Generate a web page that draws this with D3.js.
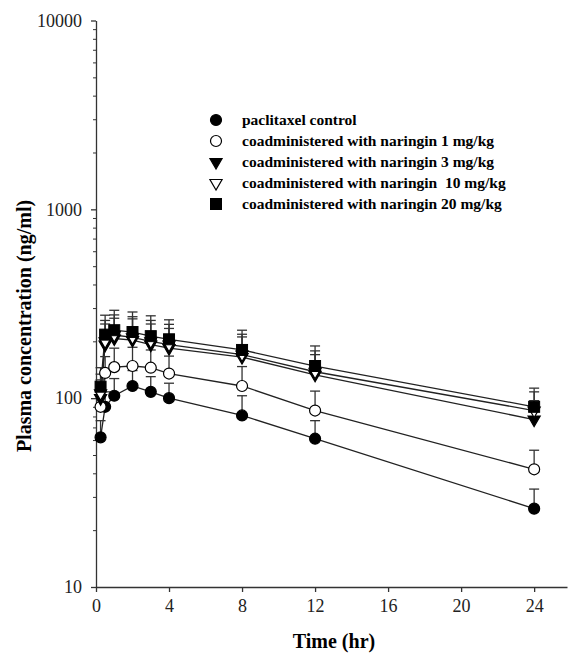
<!DOCTYPE html>
<html>
<head>
<meta charset="utf-8">
<script src="https://cdn.jsdelivr.net/npm/d3@7"></script>
<style>
  body { margin: 0; background: #fff; }
  svg { display: block; font-family: "Liberation Serif", "DejaVu Serif", serif; }
  .legend text { white-space: pre; }
</style>
</head>
<body>
<svg width="569" height="656"></svg>
<script>
// sampling times (hr)
const times = [0.25, 0.5, 1, 2, 3, 4, 8, 12, 24]

// mean plasma concentration (ng/ml) per group
const control = [62, 90, 103, 116, 108, 100, 81, 61, 26]
const nar1 = [90, 136, 146, 148, 145, 135, 116, 86, 42]
const nar3 = [100, 192, 207, 203, 192, 184, 165, 133, 77]
const nar10 = [106, 200, 216, 210, 200, 192, 170, 138, 86]
const nar20 = [115, 217, 229, 224, 213, 205, 180, 148, 90]

// upper error (SD) per group
const controlErr = [14, 18, 24, 24, 22, 20, 22, 15, 7]
const nar1Err = [20, 30, 38, 38, 35, 32, 31, 23, 11]
const nar3Err = [25, 55, 58, 60, 55, 50, 46, 37, 20]
const nar10Err = [28, 58, 60, 60, 58, 54, 48, 40, 22]
const nar20Err = [30, 58, 63, 62, 60, 55, 49, 41, 23]

const legendLabels = [
    "paclitaxel control",
    "coadministered with naringin 1 mg/kg",
    "coadministered with naringin 3 mg/kg",
    "coadministered with naringin  10 mg/kg",
    "coadministered with naringin 20 mg/kg"
]

const xTicks = [0, 4, 8, 12, 16, 20, 24]
const yTicks = [10, 100, 1000, 10000]

const groups = [
    { name: legendLabels[0], values: control, err: controlErr, shape: "circle", fill: "#000" },
    { name: legendLabels[1], values: nar1, err: nar1Err, shape: "circle", fill: "#fff" },
    { name: legendLabels[2], values: nar3, err: nar3Err, shape: "tri", fill: "#000" },
    { name: legendLabels[3], values: nar10, err: nar10Err, shape: "tri", fill: "#fff" },
    { name: legendLabels[4], values: nar20, err: nar20Err, shape: "square", fill: "#000" }
]

const svg = d3.select("svg")

const x = d3.scaleLinear()
    .domain([0, 25.8])
    .range([96, 567])

const y = d3.scaleLog()
    .domain([10, 10000])
    .range([587, 20.5])

// minor ticks on the log axis
const minorTicks = []
for (let dec = 10; dec < 10000; dec *= 10) {
    for (let m = 2; m <= 9; m++) minorTicks.push(dec * m)
}

svg.append("g")
    .attr("transform", "translate(96,0)")
    .call(d3.axisLeft(y).tickValues(minorTicks).tickSize(3).tickFormat(""))
    .call(g => g.select(".domain").remove())
    .selectAll("line").attr("stroke", "#333")

svg.append("g")
    .attr("class", "yaxis")
    .attr("transform", "translate(96,0)")
    .call(d3.axisLeft(y).tickValues(yTicks).tickSize(5).tickSizeOuter(0).tickFormat(d3.format("d")))
    .call(g => g.selectAll("text")
        .attr("font-family", "Liberation Serif")
        .attr("font-size", 18)
        .attr("fill", "#222")
        .attr("x", -14))
    .call(g => g.selectAll("line,path").attr("stroke", "#333").attr("stroke-width", 1.3))

svg.append("g")
    .attr("transform", "translate(0,587)")
    .call(d3.axisBottom(x).tickValues(xTicks).tickSize(5).tickSizeOuter(0))
    .call(g => g.selectAll("text")
        .attr("font-family", "Liberation Serif")
        .attr("font-size", 18)
        .attr("fill", "#222")
        .attr("y", 12))
    .call(g => g.selectAll("line,path").attr("stroke", "#333").attr("stroke-width", 1.3))

// axis titles
svg.append("text")
    .attr("transform", "translate(31,326) rotate(-90)")
    .attr("text-anchor", "middle")
    .attr("font-size", 20)
    .attr("font-weight", "bold")
    .text("Plasma concentration (ng/ml)")

svg.append("text")
    .attr("x", 334)
    .attr("y", 648)
    .attr("text-anchor", "middle")
    .attr("font-size", 20)
    .attr("font-weight", "bold")
    .text("Time (hr)")

// marker helper
function drawMarker(sel, shape, fill) {
    if (shape === "circle") {
        sel.append("circle").attr("r", 5.5)
            .attr("fill", fill).attr("stroke", "#000").attr("stroke-width", 1.2)
    } else if (shape === "square") {
        sel.append("rect").attr("x", -5.5).attr("y", -5.5).attr("width", 11).attr("height", 11)
            .attr("fill", fill).attr("stroke", "#000").attr("stroke-width", 1)
    } else {
        sel.append("path")
            .attr("d", d3.symbol(d3.symbolTriangle, 64)())
            .attr("transform", "rotate(180)")
            .attr("fill", fill).attr("stroke", "#000").attr("stroke-width", 1.2)
    }
}

const line = d3.line()
    .x((d, i) => x(times[i]))
    .y(d => y(d))

// lines
svg.append("g").selectAll("path")
    .data(groups)
    .join("path")
    .attr("d", d => line(d.values))
    .attr("fill", "none")
    .attr("stroke", "#222")
    .attr("stroke-width", 1.3)

// error bars (upper only)
const bars = svg.append("g")
    .attr("stroke", "#333")
    .attr("stroke-width", 1.3)
groups.forEach(grp => {
    grp.values.forEach((v, i) => {
        const cx = x(times[i])
        const top = y(v + grp.err[i])
        bars.append("line").attr("x1", cx).attr("x2", cx).attr("y1", y(v)).attr("y2", top)
        bars.append("line").attr("x1", cx - 5).attr("x2", cx + 5).attr("y1", top).attr("y2", top)
    })
})

// markers
groups.forEach(grp => {
    svg.append("g").selectAll("g")
        .data(grp.values)
        .join("g")
        .attr("transform", (d, i) => `translate(${x(times[i])},${y(d)})`)
        .each(function () { drawMarker(d3.select(this), grp.shape, grp.fill) })
})

// legend
const legend = svg.append("g").attr("class", "legend")
groups.forEach((grp, i) => {
    const row = legend.append("g").attr("transform", `translate(216,${120 + i * 21})`)
    drawMarker(row, grp.shape, grp.fill)
    row.append("text")
        .attr("x", 26)
        .attr("dy", "0.33em")
        .attr("font-size", 15.5)
        .attr("font-weight", "bold")
        .text(grp.name)
})
</script>
</body>
</html>
